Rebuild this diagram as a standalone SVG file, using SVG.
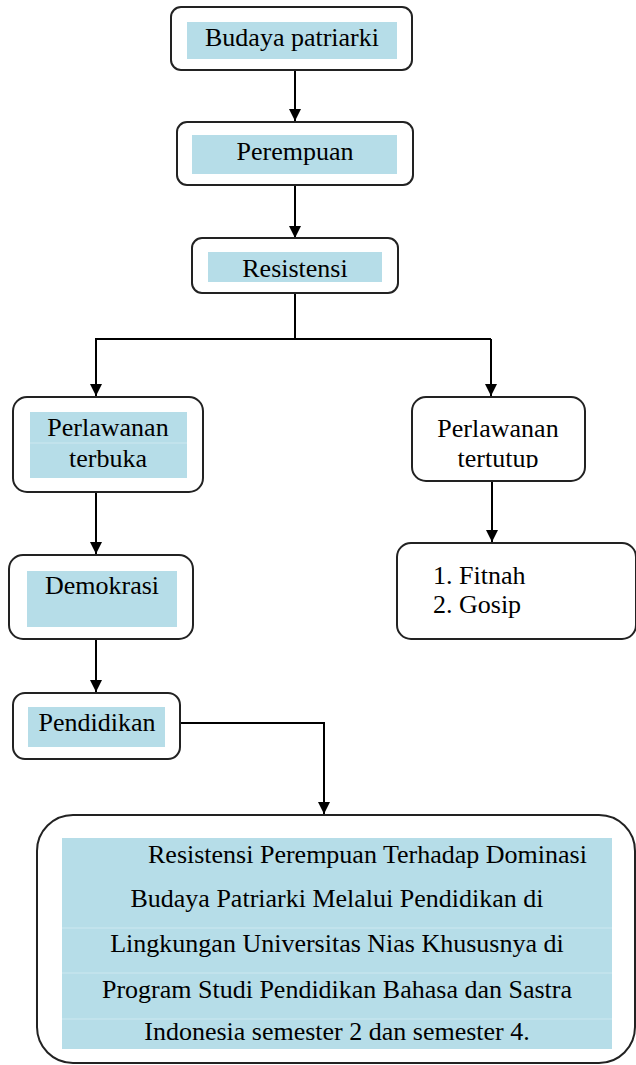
<svg xmlns="http://www.w3.org/2000/svg" width="636" height="1065" viewBox="0 0 636 1065">
<style>
.box{fill:#fff;stroke:#222;stroke-width:2}
.hl{fill:#b6dde8}
.sep{stroke:#cde8f0;stroke-width:1}
.t{font-family:"Liberation Serif","Times New Roman",serif;font-size:26px;fill:#000}
.c{text-anchor:middle}
.ln{fill:none;stroke:#000;stroke-width:2}
</style>
<defs>
<marker id="ah" viewBox="0 0 12 12" refX="12" refY="6" markerWidth="12" markerHeight="12" markerUnits="userSpaceOnUse" orient="auto">
<path d="M0,0 L12,6 L0,12 Z" fill="#000"/>
</marker>
<clipPath id="clipTt"><rect x="400" y="390" width="200" height="78"/></clipPath>
</defs>
<g id="connectors">
<path class="ln" d="M295,70 V121" marker-end="url(#ah)"/>
<path class="ln" d="M295,185 V238" marker-end="url(#ah)"/>
<path class="ln" d="M295,293 V338"/>
<path class="ln" d="M95,339 H491"/>
<path class="ln" d="M96,339 V396" marker-end="url(#ah)"/>
<path class="ln" d="M491,339 V396" marker-end="url(#ah)"/>
<path class="ln" d="M96,492 V554" marker-end="url(#ah)"/>
<path class="ln" d="M492,481 V542" marker-end="url(#ah)"/>
<path class="ln" d="M96,639 V692" marker-end="url(#ah)"/>
<path class="ln" d="M180,723 H324 V814" marker-end="url(#ah)"/>
</g>
<g id="n-budaya">
<rect class="box" x="171" y="7" width="241" height="63" rx="10"/>
<rect class="hl" x="187" y="22" width="210" height="37"/>
<text class="t c" x="292" y="46">Budaya patriarki</text>
</g>
<g id="n-perempuan">
<rect class="box" x="177" y="122" width="236" height="63" rx="10"/>
<rect class="hl" x="192" y="135" width="205" height="39"/>
<text class="t c" x="295" y="160">Perempuan</text>
</g>
<g id="n-resistensi">
<rect class="box" x="192" y="238" width="206" height="55" rx="10"/>
<rect class="hl" x="208" y="252" width="174" height="30"/>
<text class="t c" x="295" y="277">Resistensi</text>
</g>
<g id="n-terbuka">
<rect class="box" x="13" y="397" width="190" height="95" rx="14"/>
<rect class="hl" x="30" y="412" width="157" height="66"/>
<line class="sep" x1="30" y1="443" x2="187" y2="443"/>
<text class="t c" x="108" y="436">Perlawanan</text>
<text class="t c" x="108" y="467">terbuka</text>
</g>
<g id="n-tertutup">
<rect class="box" x="412" y="397" width="173" height="84" rx="14"/>
<text class="t c" x="498" y="437">Perlawanan</text>
<text class="t c" x="498" y="467" clip-path="url(#clipTt)">tertutup</text>
</g>
<g id="n-fitnah">
<rect class="box" x="397" y="543" width="239" height="96" rx="14"/>
<text class="t" x="433" y="584">1.  Fitnah</text>
<text class="t" x="433" y="613">2.  Gosip</text>
</g>
<g id="n-demokrasi">
<rect class="box" x="9" y="555" width="184" height="84" rx="14"/>
<rect class="hl" x="27" y="571" width="150" height="56"/>
<text class="t c" x="102" y="594">Demokrasi</text>
</g>
<g id="n-pendidikan">
<rect class="box" x="13" y="693" width="167" height="66" rx="12"/>
<rect class="hl" x="28" y="707" width="137" height="40"/>
<text class="t c" x="97" y="731">Pendidikan</text>
</g>
<g id="n-result">
<rect class="box" x="37" y="815" width="598" height="248" rx="36"/>
<rect class="hl" x="62" y="838" width="550" height="211"/>
<line class="sep" x1="62" y1="928" x2="612" y2="928"/>
<line class="sep" x1="62" y1="973" x2="612" y2="973"/>
<line class="sep" x1="62" y1="1019" x2="612" y2="1019"/>
<text class="t" x="148" y="863">Resistensi Perempuan Terhadap Dominasi</text>
<text class="t c" x="337" y="907">Budaya Patriarki Melalui Pendidikan di</text>
<text class="t c" x="337" y="952">Lingkungan Universitas Nias Khususnya di</text>
<text class="t c" x="337" y="998">Program Studi Pendidikan Bahasa dan Sastra</text>
<text class="t c" x="337" y="1040">Indonesia semester 2 dan semester 4.</text>
</g>
</svg>
